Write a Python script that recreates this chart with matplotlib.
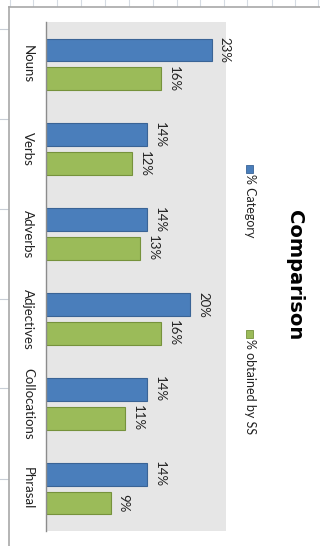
import matplotlib
matplotlib.use("Agg")
import matplotlib.pyplot as plt
from matplotlib.patches import Rectangle
from matplotlib.lines import Line2D
import numpy as np

categories = ["Nouns", "Verbs", "Adverbs", "Adjectives", "Collocations", "Phrasal"]
pct_category = [23, 14, 14, 20, 14, 14]
pct_obtained = [16, 12, 13, 16, 11, 9]
series_names = ["% Category", "% obtained by SS"]
title = "Comparison"

W, H = 320, 546
plt.rcParams['font.family'] = ['Lato', 'DejaVu Sans']
fig = plt.figure(figsize=(W / 100, H / 100), dpi=100)
fig.patch.set_facecolor("white")

def fx(px):
    return px / W

def fy(py):
    return 1 - py / H

# spreadsheet decoration
for gx in [10, 33, 57, 81, 105, 129, 153, 177, 200, 224, 247, 272, 295, 318]:
    fig.add_artist(Line2D([fx(gx), fx(gx)], [fy(0), fy(6)], color="#d5dbe3", lw=0.8))
for gy in [29, 119, 209, 299, 388, 479]:
    fig.add_artist(Line2D([fx(0), fx(8)], [fy(gy), fy(gy)], color="#c8ced6", lw=0.8))
fig.add_artist(Line2D([fx(9), fx(9)], [fy(7), fy(546)], color="#a8a8a8", lw=1.2))
fig.add_artist(Line2D([fx(9), fx(320)], [fy(7), fy(7)], color="#a8a8a8", lw=1.2))

ax = fig.add_axes([fx(46), fy(531), (226 - 46) / W, (531 - 22) / H])
ax.set_facecolor("#e6e6e6")

y = np.arange(len(categories))
bh = 0.27
off = 0.17
ax.barh(y - off, pct_category, height=bh, color="#4a7ebb", edgecolor="#3a6496", lw=0.8)
ax.barh(y + off, pct_obtained, height=bh, color="#9bbb59", edgecolor="#76923c", lw=0.8)
ax.set_xlim(0, 25)
ax.set_ylim(len(categories) - 0.5, -0.5)
ax.set_xticks([])
ax.set_yticks([])
for s in ["top", "right", "bottom"]:
    ax.spines[s].set_visible(False)
ax.spines["left"].set_color("#8c8c8c")
ax.spines["left"].set_linewidth(1.0)

lab_fs = 9.5
for i, (a, b) in enumerate(zip(pct_category, pct_obtained)):
    ax.annotate(f"{a}%", (a, i - off), xytext=(5, 0), textcoords="offset points",
                rotation=-90, ha="left", va="center", fontsize=lab_fs, color="#222222")
    ax.annotate(f"{b}%", (b, i + off), xytext=(5, 0), textcoords="offset points",
                rotation=-90, ha="left", va="center", fontsize=lab_fs, color="#222222")

tr = ax.get_yaxis_transform()
for i, c in enumerate(categories):
    ax.text((28 - 46) / 180, i, c, transform=tr, rotation=-90, ha="center", va="center",
            fontsize=lab_fs, color="#222222")

# legend
leg = [(165, 174, "#4a7ebb", "#3a6496", series_names[0]),
       (330, 339, "#9bbb59", "#76923c", series_names[1])]
for y0, ty, fc, ec, name in leg:
    fig.add_artist(Rectangle((fx(246), fy(y0 + 8)), 7 / W, 8 / H, facecolor=fc, edgecolor=ec, lw=0.6,
                             transform=fig.transFigure))
    fig.text(fx(250), fy(ty), name, rotation=-90, ha="center", va="top", fontsize=9,
             color="#222222")

fig.text(fx(294), fy(275), title, rotation=-90, ha="center", va="center", fontsize=14,
         fontweight="bold", color="black", family=["DejaVu Sans"])

fig.savefig("out.png", dpi=100)
